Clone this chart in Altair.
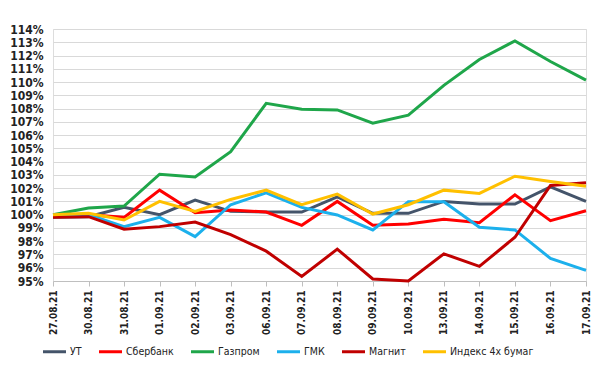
import altair as alt
import pandas as pd

dates = ["27.08.21", "30.08.21", "31.08.21", "01.09.21", "02.09.21", "03.09.21",
         "06.09.21", "07.09.21", "08.09.21", "09.09.21", "10.09.21", "13.09.21",
         "14.09.21", "15.09.21", "16.09.21", "17.09.21"]

ut = [99.8, 99.85, 100.55, 100.0, 101.1, 100.25, 100.2, 100.2, 101.35, 100.1, 100.1, 101.0, 100.8, 100.8, 102.1, 101.0]
sber = [99.9, 100.0, 99.8, 101.85, 100.15, 100.35, 100.2, 99.2, 101.0, 99.2, 99.3, 99.65, 99.4, 101.5, 99.55, 100.3]
gazprom = [100.0, 100.5, 100.65, 103.05, 102.85, 104.75, 108.4, 107.95, 107.9, 106.9, 107.5, 109.75, 111.7, 113.1, 111.55, 110.15]
gmk = [100.0, 100.0, 99.1, 99.8, 98.35, 100.75, 101.65, 100.55, 99.98, 98.85, 100.98, 100.98, 99.05, 98.85, 96.7, 95.8]
magnit = [99.8, 99.85, 98.9, 99.1, 99.45, 98.5, 97.25, 95.35, 97.4, 95.15, 95.0, 97.05, 96.1, 98.3, 102.2, 102.4]
index4 = [100.0, 100.1, 99.6, 101.0, 100.25, 101.15, 101.85, 100.75, 101.55, 100.05, 100.75, 101.85, 101.6, 102.9, 102.5, 102.15]

series_names = ["УТ", "Сбербанк", "Газпром", "ГМК", "Магнит", "Индекс 4х бумаг"]
series_vals = [ut, sber, gazprom, gmk, magnit, index4]
colors = ["#44546A", "#FF0000", "#1FA64A", "#1CB0EC", "#C00000", "#FFC000"]

rows = []
for k, (name, vals) in enumerate(zip(series_names, series_vals)):
    for d, v in zip(dates, vals):
        rows.append({"date": d, "value": v, "series": name, "order": k})
df = pd.DataFrame(rows)

font = "DejaVu Sans Condensed, Liberation Sans, sans-serif"

chart = alt.Chart(df).mark_line(strokeWidth=3, strokeJoin="miter").encode(
    x=alt.X("date:N", sort=dates, title=None,
            scale=alt.Scale(type="point", padding=0),
            axis=alt.Axis(labelAngle=-90, labelFont=font, labelFontWeight="bold",
                          labelFontSize=10, labelColor="#222222", labelPadding=4,
                          domainColor="#BFBFBF", tickColor="#BFBFBF", tickSize=5,
                          grid=False)),
    y=alt.Y("value:Q", title=None,
            scale=alt.Scale(domain=[95, 114], nice=False, zero=False),
            axis=alt.Axis(values=list(range(95, 115)), labelExpr="datum.value + '%'",
                          labelFont=font, labelFontWeight="bold", labelFontSize=12,
                          labelColor="#222222", labelPadding=10, ticks=False,
                          labelOverlap=False,
                          domain=False, gridColor="#D9D9D9", gridWidth=1)),
    color=alt.Color("series:N", title=None,
                    scale=alt.Scale(domain=series_names, range=colors),
                    legend=alt.Legend(orient="none", legendX=-12, legendY=309,
                                      direction="horizontal", symbolType="stroke",
                                      symbolStrokeWidth=3, symbolSize=530,
                                      labelFont=font, labelFontSize=10.5,
                                      labelColor="#222222", columnPadding=10,
                                      labelOffset=2)),
    order=alt.Order("order:Q"),
    detail="series:N",
).properties(
    width=533, height=252,
    autosize=alt.AutoSizeParams(type="none"),
    padding={"left": 53, "top": 29, "right": 14, "bottom": 86},
).configure_view(stroke=None).configure(background="white")

chart.save("out.html", embed_options={"renderer": "svg", "actions": False})
